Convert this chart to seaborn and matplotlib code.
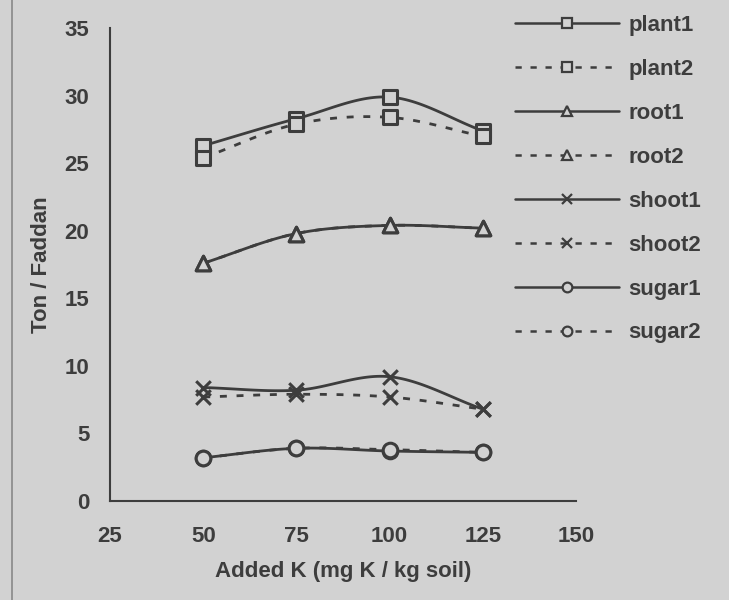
import numpy as np
import pandas as pd
import seaborn as sns
import matplotlib.pyplot as plt
from matplotlib.lines import Line2D
from matplotlib.patches import Rectangle

# values
added_k = [50, 75, 100, 125]
plant1 = [26.3, 28.3, 29.9, 27.4]
plant2 = [25.4, 27.9, 28.4, 27.0]
root1 = [17.6, 19.8, 20.4, 20.2]
root2 = [17.6, 19.8, 20.4, 20.2]
shoot1 = [8.4, 8.2, 9.2, 6.8]
shoot2 = [7.7, 7.9, 7.7, 6.8]
sugar1 = [3.2, 3.9, 3.7, 3.6]
sugar2 = [3.2, 3.9, 3.8, 3.6]

series = {
    "plant1": plant1, "plant2": plant2,
    "root1": root1, "root2": root2,
    "shoot1": shoot1, "shoot2": shoot2,
    "sugar1": sugar1, "sugar2": sugar2,
}
markers = {"plant": "s", "root": "^", "shoot": "x", "sugar": "o"}

rows = []
for name, vals in series.items():
    for x, y in zip(added_k, vals):
        rows.append({"k": x, "value": y, "series": name})
df = pd.DataFrame(rows)

BG = "#d2d2d2"
INK = "#3d3d3d"
FS = 16

sns.set_theme(style="white")
plt.rcParams["font.family"] = ["Liberation Sans", "DejaVu Sans"]
plt.rcParams["font.weight"] = "bold"


def smooth(xs, ys, n=30):
    # catmull-rom style curve through the points, like the spreadsheet's smoothed line
    xs = np.asarray(xs, float)
    ys = np.asarray(ys, float)
    px = np.concatenate([[2 * xs[0] - xs[1]], xs, [2 * xs[-1] - xs[-2]]])
    py = np.concatenate([[2 * ys[0] - ys[1]], ys, [2 * ys[-1] - ys[-2]]])
    out_x, out_y = [], []
    t = np.linspace(0, 1, n)
    for i in range(1, len(px) - 2):
        for p, out in ((px, out_x), (py, out_y)):
            p0, p1, p2, p3 = p[i - 1], p[i], p[i + 1], p[i + 2]
            seg = 0.5 * ((2 * p1) + (-p0 + p2) * t
                         + (2 * p0 - 5 * p1 + 4 * p2 - p3) * t ** 2
                         + (-p0 + 3 * p1 - 3 * p2 + p3) * t ** 3)
            out.extend(seg)
    return out_x, out_y


fig = plt.figure(figsize=(7.29, 6), dpi=100, facecolor=BG)
ax = fig.add_axes([0.151, 0.165, 0.639, 0.788])
ax.set_facecolor(BG)

handles = []
for name in series:
    sub = df[df["series"] == name]
    dashed = name.endswith("2")
    ls = (0, (2.5, 3.5)) if dashed else "-"
    mk = markers[name[:-1]]
    sx, sy = smooth(sub["k"], sub["value"])
    ax.plot(sx, sy, color=INK, lw=2, ls=ls, zorder=2)
    sns.scatterplot(data=sub, x="k", y="value", ax=ax, marker=mk, s=110,
                    facecolor=BG if mk != "x" else INK, edgecolor=INK,
                    color=INK, linewidth=2.2, zorder=3, legend=False)
    handles.append(Line2D([], [], color=INK, lw=1.8, ls=ls, marker=mk,
                          markersize=7, markerfacecolor=BG,
                          markeredgecolor=INK, markeredgewidth=1.6,
                          label=name))

ax.set_xlim(25, 150)
ax.set_ylim(0, 35)
ax.set_xticks([25, 50, 75, 100, 125, 150])
ax.set_yticks(range(0, 36, 5))
sns.despine(ax=ax)
for s in ("left", "bottom"):
    ax.spines[s].set_color(INK)
    ax.spines[s].set_linewidth(1.5)
ax.tick_params(axis="y", direction="out", length=6, width=1.3, color=INK,
               pad=9, labelsize=FS, labelcolor=INK)
ax.tick_params(axis="x", direction="out", length=4, width=1.3, color=INK,
               pad=14, labelsize=FS, labelcolor=INK)
ax.set_xlabel("Added K (mg K / kg soil)", fontsize=FS, fontweight="bold",
              color=INK, labelpad=10)
ax.set_ylabel("Ton / Faddan", fontsize=FS, fontweight="bold", color=INK,
              labelpad=9)

leg = fig.legend(handles=handles, loc="upper left",
                 bbox_to_anchor=(0.679, 1.008), frameon=False,
                 handlelength=4.7, handletextpad=0.4, labelspacing=1.03,
                 prop={"size": FS, "weight": "bold"})
for t in leg.get_texts():
    t.set_color(INK)

fig.patches.append(Rectangle((0.016, -0.01), 1.0, 1.02, transform=fig.transFigure,
                             fill=False, edgecolor="#888888", lw=1.2))

fig.savefig("out.png", dpi=100, facecolor=BG)
